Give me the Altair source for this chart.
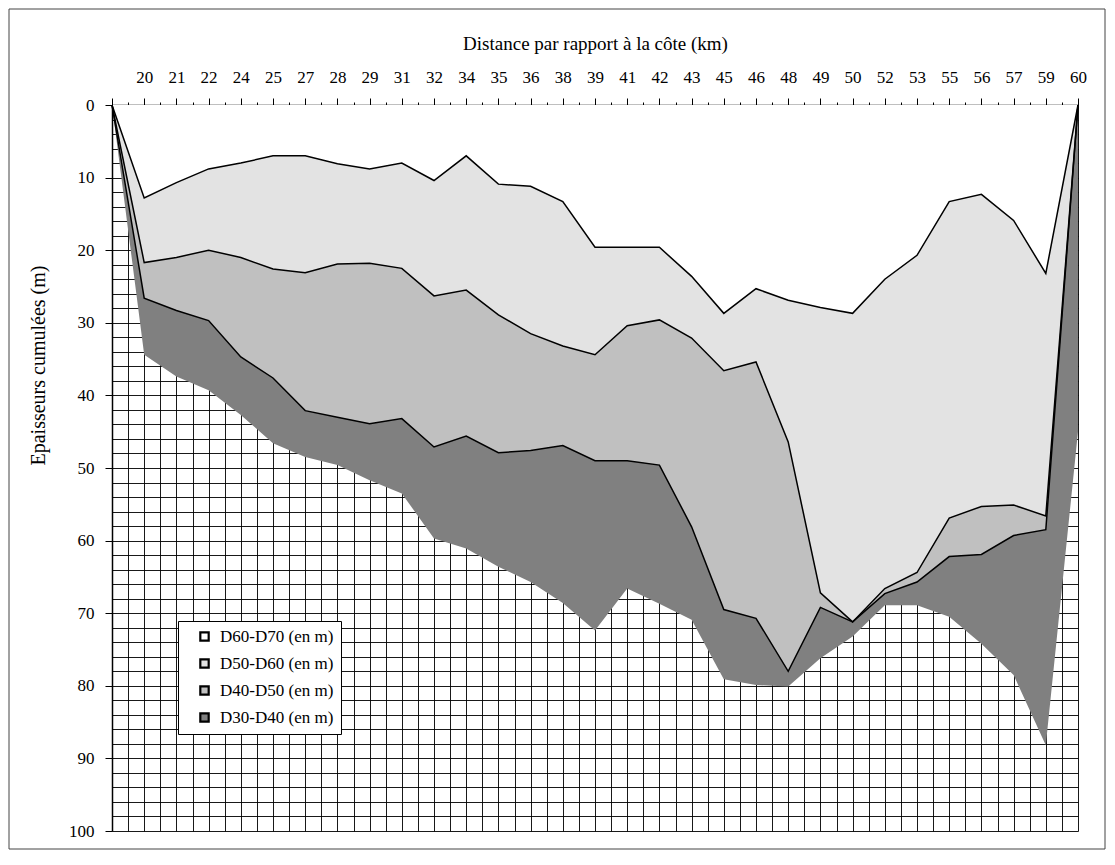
import altair as alt
import pandas as pd

# Distance labels along the section (first station has no label)
distances = ["", "20", "21", "22", "24", "25", "27", "28", "29", "31", "32",
             "34", "35", "36", "38", "39", "41", "42", "43", "45", "46",
             "48", "49", "50", "52", "53", "55", "56", "57", "59", "60"]

# Cumulated depth (m) of the base of each layer at every station
base_d60_d70 = [0, 12.8, 10.7, 8.8, 8.0, 7.0, 7.0, 8.1, 8.8, 8.0, 10.4,
                7.0, 10.9, 11.2, 13.3, 19.6, 19.6, 19.6, 23.6, 28.7, 25.3,
                26.9, 27.9, 28.7, 24.0, 20.7, 13.3, 12.3, 15.9, 23.2, 0]
base_d50_d60 = [0, 21.7, 21.0, 20.0, 21.0, 22.6, 23.1, 21.9, 21.8, 22.5, 26.3,
                25.5, 28.9, 31.5, 33.2, 34.4, 30.4, 29.6, 32.1, 36.6, 35.4,
                46.4, 67.2, 71.2, 66.6, 64.4, 56.9, 55.3, 55.1, 56.6, 0]
base_d40_d50 = [0, 26.6, 28.3, 29.7, 34.7, 37.6, 42.1, 43.0, 43.9, 43.2, 47.1,
                45.6, 47.9, 47.6, 46.9, 49.0, 49.0, 49.6, 58.1, 69.5, 70.7,
                78.0, 69.2, 71.2, 67.3, 65.7, 62.2, 61.9, 59.3, 58.5, 0]
base_d30_d40 = [0, 34.4, 37.4, 39.3, 42.7, 46.6, 48.5, 49.6, 51.7, 53.5, 59.7,
                61.1, 63.6, 65.7, 68.6, 72.4, 66.6, 68.7, 70.9, 79.1, 79.9,
                80.1, 76.2, 73.2, 68.9, 68.9, 70.5, 74.2, 78.5, 88.2, 45.0]

layers = ["D60-D70 (en m)", "D50-D60 (en m)", "D40-D50 (en m)", "D30-D40 (en m)"]
fills = ["#ffffff", "#e3e3e3", "#c0c0c0", "#808080"]

n = len(distances)
surface = [0.0] * n
bounds = [surface, base_d60_d70, base_d50_d60, base_d40_d50, base_d30_d40]

area_rows = []
for k, name in enumerate(layers):
    for i in range(n):
        area_rows.append({"idx": i, "couche": name,
                          "haut": bounds[k][i], "bas": bounds[k + 1][i]})
areas_df = pd.DataFrame(area_rows)

line_rows = []
for k in range(1, 4):
    for i in range(n):
        line_rows.append({"idx": i, "limite": layers[k - 1], "prof": bounds[k][i]})
lines_df = pd.DataFrame(line_rows)

FONT = "Liberation Serif"
label_array = "[" + ",".join('"%s"' % d for d in distances) + "]"

x_axis = alt.Axis(
    orient="top",
    title="Distance par rapport à la côte (km)",
    values=[i * 0.5 for i in range(2 * (n - 1) + 1)],
    labelExpr="datum.value % 1 === 0 ? " + label_array + "[datum.value] : ''",
    labelOverlap=False, labelFlush=False, labelAngle=0,
    tickSize={"condition": {"test": "datum.value % 1 === 0", "value": 7}, "value": 3},
    grid=True, gridColor="#000000", gridWidth=1, gridOpacity=0.9,
    domainColor="#000000", domainWidth=1.5, tickColor="#000000", tickWidth=1,
    labelFont=FONT, labelFontSize=17, labelColor="#000000", labelPadding=12,
    titleFont=FONT, titleFontSize=19, titleFontWeight="normal", titleColor="#000000",
    titlePadding=15,
)
y_axis = alt.Axis(
    title="Epaisseurs cumulées (m)",
    titleY=260,
    values=list(range(0, 101, 2)),
    labelExpr="datum.value % 10 === 0 ? datum.value : ''",
    labelOverlap=False, labelFlush=False,
    tickSize={"condition": {"test": "datum.value % 10 === 0", "value": 7}, "value": 0},
    grid=True, gridColor="#000000", gridWidth=1, gridOpacity=0.9,
    domainColor="#000000", domainWidth=1.5, tickColor="#000000",
    labelFont=FONT, labelFontSize=17, labelColor="#000000", labelPadding=11,
    titleFont=FONT, titleFontSize=20, titleFontWeight="normal", titleColor="#000000",
    titlePadding=20,
)

x_enc = alt.X("idx:Q", scale=alt.Scale(domain=[0, n - 1], nice=False, zero=False), axis=x_axis)
y_scale = alt.Scale(domain=[0, 100], reverse=True, nice=False)

areas = alt.Chart(areas_df).mark_area(interpolate="linear").encode(
    x=x_enc,
    y=alt.Y("haut:Q", scale=y_scale, axis=y_axis, stack=False),
    y2="bas:Q",
    color=alt.Color(
        "couche:N",
        scale=alt.Scale(domain=layers, range=fills),
        legend=alt.Legend(
            title=None, orient="none", legendX=66, legendY=516,
            symbolType="square", symbolSize=70, symbolStrokeColor="#000000",
            symbolStrokeWidth=2.2, symbolOffset=11,
            labelFont=FONT, labelFontSize=17, labelColor="#000000", labelOffset=7,
            rowPadding=8, padding=7,
            fillColor="#ffffff", strokeColor="#000000",
        ),
    ),
)

lines = alt.Chart(lines_df).mark_line(color="#000000", strokeWidth=1.5).encode(
    x=x_enc,
    y=alt.Y("prof:Q", scale=y_scale, axis=y_axis),
    detail="limite:N",
)

frame = alt.Chart(pd.DataFrame({"f": [0]})).mark_rect(
    filled=False, stroke="#444444", strokeWidth=1
).encode(
    x=alt.value(-103), x2=alt.value(993), y=alt.value(-96), y2=alt.value(744)
)

chart = alt.layer(areas, lines, frame).properties(
    width=966, height=726,
    autosize=alt.AutoSizeParams(type="none"),
    padding={"left": 112, "top": 105, "right": 37, "bottom": 34},
    background="#ffffff",
).configure_view(stroke=None)

chart.save("out.html", embed_options={"renderer": "svg", "actions": False})
